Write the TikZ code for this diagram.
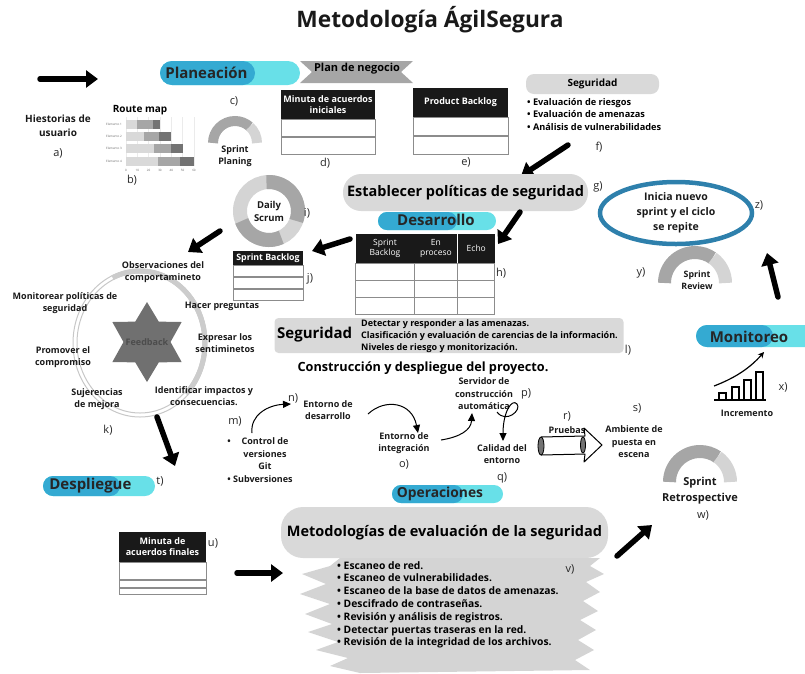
\documentclass[tikz,border=0pt]{standalone}
\usepackage{fontspec}
\setmainfont{Open Sans}
\usepackage{tikz}
\usetikzlibrary{positioning,arrows.meta,shapes.geometric}

\definecolor{pilldark}{RGB}{52,170,210}
\definecolor{pilllight}{RGB}{104,224,232}
\definecolor{boxgray}{RGB}{217,217,217}
\definecolor{gaugedark}{RGB}{166,166,166}
\definecolor{gaugelight}{RGB}{212,212,212}
\definecolor{stargray}{RGB}{112,112,112}
\definecolor{ringblue}{RGB}{46,128,172}

\begin{document}
\begin{tikzpicture}[x=1pt, y=1pt,
    lbl/.style={font=\bfseries\fontsize{9}{12.5}\selectfont, align=center, text=black!90},
    letter/.style={font=\fontsize{11}{13}\selectfont, text=black!85},
    pilltext/.style={font=\bfseries\fontsize{15}{17}\selectfont, text=black!85},
    bigarrow/.style={line width=5.5pt, line cap=round, -{Triangle[length=12pt,width=17pt]}},
    thinarrow/.style={line width=1pt, -{Triangle[length=8pt,width=7pt]}},
    tablehead/.style={fill=black!90, text=white, font=\bfseries\fontsize{9}{11}\selectfont, align=center, inner sep=0pt},
    tablerow/.style={draw=black!45, line width=0.8pt, inner sep=0pt},
    graybox/.style={fill=boxgray, inner sep=0pt},
    lightbar/.style={fill=pilllight, inner sep=0pt},
    darkbar/.style={fill=pilldark, inner sep=0pt, anchor=west}]
\useasboundingbox (0,0) rectangle (805,-673);

% title
\node[font=\bfseries\fontsize{22.7}{26}\selectfont, text=black!90] (title) at (430,-20) {Metodología ÁgilSegura};

% planeacion
\coordinate (a1) at (40,-79);
\coordinate (a2) at (98,-79);
\draw[bigarrow] (a1) -- (a2);
\node[lightbar, rounded corners=12pt, minimum width=140, minimum height=24] (planbar) at (230,-73) {};
\node[darkbar, rounded corners=12pt, minimum width=95, minimum height=24] (plandark) at (planbar.west) {};
\node[pilltext, anchor=west] (planeacion) at ([xshift=2pt]planbar.west) {Planeación};
\fill[gaugedark] (300,-61) -- (413,-61) -- (401,-72) -- (413,-83) -- (300,-83) -- (312,-72) -- cycle;
\node[font=\bfseries\fontsize{11}{13}\selectfont] (negocio) at (357,-69) {Plan de negocio};

\node[lbl, font=\bfseries\fontsize{10}{14}\selectfont] (historias) at (58,-126) {Hiestorias de\\usuario};
\node[letter] (la) at (58,-153) {a)};

% route map
\node[font=\bfseries\fontsize{10}{11}\selectfont] (routemap) at (140,-110) {Route map};
\foreach \t in {0,10,...,60} {
  \draw[black!8, line width=0.4pt] ({126+1.133*\t},-117) -- ({126+1.133*\t},-166);
  \node[font=\fontsize{3}{3}\selectfont, text=black!60, inner sep=0pt] (tick\t) at ({126+1.133*\t},-170) {\t};
}
\foreach \r/\a/\b/\c [count=\i] in {124/10/24/30, 136/16/29/40, 148/25/40/50, 161/28/48/60} {
  \fill[black!15] (126,-\r+4.5) rectangle ({126+1.133*\a},-\r-4.5);
  \fill[black!35] ({126+1.133*\a},-\r+4.5) rectangle ({126+1.133*\b},-\r-4.5);
  \fill[black!55] ({126+1.133*\b},-\r+4.5) rectangle ({126+1.133*\c},-\r-4.5);
  \node[font=\fontsize{3}{3}\selectfont, text=black!60, inner sep=0pt] (elem\i) at (114,-\r) {Elemento \i};
}
\node[letter] (lb) at (132,-180) {b)};

% sprint planing
\node[letter] (lc) at (234,-101) {c)};
\coordinate (gc) at (235,-143);
\draw[gaugedark, line width=10pt] ([shift={(180:22)}]gc) arc (180:48:22);
\draw[gaugelight, line width=10pt] ([shift={(48:22)}]gc) arc (48:0:22);
\node[lbl] (planing) at (235,-156) {Sprint\\Planing};

% minuta de acuerdos iniciales
\node[tablehead, minimum width=94, minimum height=29] (minuta) at (328,-104.5) {Minuta de acuerdos\\iniciales};
\node[tablerow, minimum width=94, minimum height=17, below=0pt of minuta] (minuta1) {};
\node[tablerow, minimum width=94, minimum height=17, below=0pt of minuta1] (minuta2) {};
\node[letter] (ld) at (325,-163) {d)};

% product backlog
\node[tablehead, minimum width=95, minimum height=29] (backlog) at (460.5,-102.5) {Product Backlog};
\node[tablerow, minimum width=95, minimum height=18, below=0pt of backlog] (backlog1) {};
\node[tablerow, minimum width=95, minimum height=18, below=0pt of backlog1] (backlog2) {};
\node[letter] (le) at (466,-162) {e)};

% seguridad
\node[graybox, rounded corners=8pt, minimum width=133, minimum height=20, font=\bfseries\fontsize{10}{12}\selectfont] (seguridad) at (592.5,-84) {Seguridad};
\node[font=\bfseries\fontsize{9.2}{12.5}\selectfont, align=left, anchor=north west, inner sep=0pt] (riesgos) at (527,-98) {• Evaluación de riesgos\\• Evaluación de amenazas\\• Análisis de vulnerabilidades};
\node[letter] (lf) at (599,-147) {f)};
\coordinate (f1) at (568,-145);
\coordinate (f2) at (521,-176);
\draw[bigarrow] (f1) -- (f2);

% politicas
\node[graybox, rounded corners=18pt, minimum width=245, minimum height=37, font=\bfseries\fontsize{14.5}{16}\selectfont] (politicas) at (465.5,-192.5) {Establecer políticas de seguridad};
\node[letter] (lg) at (598,-187) {g)};

% desarrollo
\node[lightbar, rounded corners=9pt, minimum width=118, minimum height=18] (desbar) at (437,-221) {};
\node[darkbar, rounded corners=9pt, minimum width=79, minimum height=18] (desdark) at (desbar.west) {};
\node[pilltext] (desarrollo) at (436,-220) {Desarrollo};
\coordinate (g1) at (520,-212);
\coordinate (h1) at (498,-244);
\draw[bigarrow] (g1) -- (h1);

% tablero sprint
\node[tablehead, font=\fontsize{8.5}{10.5}\selectfont, minimum width=58, minimum height=29] (hsprint) at (385,-248.5) {Sprint\\Backlog};
\node[tablehead, font=\fontsize{8.5}{10.5}\selectfont, minimum width=43, minimum height=29, right=0pt of hsprint] (hproceso) {En\\proceso};
\node[tablehead, font=\fontsize{8.5}{10.5}\selectfont, minimum width=37, minimum height=29, right=0pt of hproceso] (hecho) {Echo};
\draw[black!45, line width=0.8pt] (hsprint.south west) rectangle (494,-314);
\foreach \y in {280,297} \draw[black!45, line width=0.8pt] (356,-\y) -- (494,-\y);
\foreach \x in {414,457} \draw[black!45, line width=0.8pt] (\x,-263) -- (\x,-314);
\node[letter] (lh) at (501,-273) {h)};
\coordinate (h2) at (350,-239);
\coordinate (j1) at (312,-251);
\draw[bigarrow] (h2) -- (j1);

% daily scrum
\coordinate (ds) at (269,-211);
\draw[gaugelight, line width=14pt] (ds) circle (29);
\draw[gaugedark, line width=14pt] ([shift={(95:29)}]ds) arc (95:-20:29);
\draw[gaugedark, line width=14pt] ([shift={(200:29)}]ds) arc (200:295:29);
\node[lbl, font=\bfseries\fontsize{9.5}{13}\selectfont] (daily) at (ds) {Daily\\Scrum};
\node[letter] (li) at (307,-213) {i)};
\node[tablehead, font=\bfseries\fontsize{8.8}{10}\selectfont, minimum width=70, minimum height=14] (jback) at (268,-258) {Sprint Backlog};
\node[tablerow, minimum width=70, minimum height=11, below=0pt of jback] (jback1) {};
\node[tablerow, minimum width=70, minimum height=11, below=0pt of jback1] (jback2) {};
\node[tablerow, minimum width=70, minimum height=11, below=0pt of jback2] (jback3) {};
\node[letter] (lj) at (310,-279) {j)};
\coordinate (i1) at (220,-231);
\coordinate (k1) at (188,-252);
\draw[bigarrow] (i1) -- (k1);

% feedback
\coordinate (fb) at (140,-343);
\draw[black!22, line width=1pt] (fb) ellipse (67 and 74);
\draw[black!22, line width=1pt] (fb) ellipse (63 and 70);
\draw[black!20, line width=5pt] ([shift={(115:65 and 72)}]fb) arc[start angle=115, end angle=-45, x radius=65, y radius=72];
\node[star, star points=6, star point ratio=1.7, minimum size=80, inner sep=0pt, fill=stargray] (star) at (147,-342) {};
\node[font=\bfseries\fontsize{9}{10}\selectfont, text=black!70] (feedback) at (star) {Feedback};
\node[lbl] (observaciones) at (163,-272) {Observaciones del\\comportamineto};
\node[lbl] (monitorear) at (65,-303) {Monitorear políticas de\\seguridad};
\node[lbl] (preguntas) at (222,-306) {Hacer preguntas};
\node[lbl] (expresar) at (225,-343) {Expresar los\\sentiminetos};
\node[lbl] (promover) at (63,-357) {Promover el\\compromiso};
\node[lbl] (sujerencias) at (97,-399) {Sujerencias\\de mejora};
\node[lbl] (impactos) at (204,-396) {Identificar impactos y\\consecuencias.};
\node[letter] (lk) at (108,-430) {k)};
\coordinate (k2) at (157,-417);
\coordinate (t1) at (175,-466);
\draw[bigarrow] (k2) -- (t1);
\node[letter] (lt) at (160,-481) {t)};

% despliegue
\node[lightbar, rounded corners=10pt, minimum width=112, minimum height=20] (despbar) at (99,-486) {};
\node[darkbar, rounded corners=10pt, minimum width=77, minimum height=20] (despdark) at (despbar.west) {};
\node[pilltext, anchor=west] (despliegue) at ([xshift=3pt]despbar.west) {Despliegue};

% seguridad (l)
\node[graybox, rounded corners=4pt, minimum width=349, minimum height=35] (segbox) at (449,-335.5) {};
\node[font=\bfseries\fontsize{15}{17}\selectfont, anchor=west, inner sep=0pt] (segl) at (277,-335) {Seguridad};
\node[font=\bfseries\fontsize{9}{12}\selectfont, align=left, anchor=west, inner sep=0pt] (amenazas) at (361,-336) {Detectar y responder a las amenazas.\\Clasificación y evaluación de carencias de la información.\\Niveles de riesgo y monitorización.};
\node[letter] (ll) at (628,-350) {l)};

% construccion
\node[font=\bfseries\fontsize{12.7}{14}\selectfont] (construccion) at (423,-368) {Construcción y despliegue del proyecto.};
\node[letter] (lm) at (235,-421) {m)};
\node[lbl] (punto) at (229,-442) {•};
\node[lbl] (control) at (265,-454) {Control de\\versiones\\Git};
\node[lbl] (subversiones) at (260,-479) {• Subversiones};
\coordinate (m1) at (252,-433);
\coordinate (n1) at (291,-404);
\draw[thinarrow] (m1) .. controls (250,-415) and (268,-405) .. (n1);
\node[letter] (ln) at (293,-398) {n)};
\node[lbl] (entornodes) at (328,-410) {Entorno de\\desarrollo};
\coordinate (n2) at (368,-414);
\coordinate (o1) at (418,-433);
\draw[thinarrow] (n2) .. controls (385,-398) and (412,-402) .. (o1);
\node[lbl] (entornoint) at (404,-443) {Entorno de\\integración};
\node[letter] (lo) at (404,-464) {o)};
\coordinate (o2) at (441,-440);
\coordinate (p1) at (472,-413);
\draw[thinarrow] (o2) .. controls (460,-437) and (471,-430) .. (p1);
\node[lbl] (servidor) at (484,-394) {Servidor de\\construcción\\automática};
\node[letter] (lp) at (526,-394) {p)};
\coordinate (p2) at (497,-412);
\coordinate (q1) at (503,-441);
\draw[thinarrow] (p2) .. controls (506,-424) and (522,-410) .. (517,-404) .. controls (512,-398) and (503,-412) .. (q1);
\node[lbl] (calidad) at (502,-454) {Calidad del\\entorno};
\node[letter] (lq) at (502,-478) {q)};
\node[letter] (lr) at (567,-416) {r)};
\node[lbl] (pruebas) at (567,-430) {Pruebas};
\coordinate (pr) at (541,-446);
\coordinate (am) at (602,-445);
\draw[line width=1pt, line join=round] (pr) ++(0,9) -- (585,-436) -- (584,-428) -- (am) -- (584,-462) -- (585,-454) -- (541,-455);
\draw[line width=0.8pt, fill=black!55] (pr) ellipse (3 and 9);
\draw[line width=0.8pt, fill=black!55] (583,-445) ellipse (2.5 and 8);
\node[letter] (ls) at (637,-408) {s)};
\node[lbl] (ambiente) at (634,-442) {Ambiente de\\puesta en\\escena};

% nuevo sprint
\node[draw=ringblue, line width=4.5pt, ellipse, minimum width=152, minimum height=62, inner sep=0pt, lbl, font=\bfseries\fontsize{10.5}{15}\selectfont] (nuevo) at (676,-213) {Inicia nuevo\\sprint y el ciclo\\se repite};
\node[letter] (lz) at (759,-205) {z)};
\coordinate (gy) at (695,-283);
\draw[gaugedark, line width=13pt] ([shift={(180:30.5)}]gy) arc (180:55:30.5);
\draw[gaugelight, line width=13pt] ([shift={(55:30.5)}]gy) arc (55:0:30.5);
\node[lbl, font=\bfseries\fontsize{8.8}{12.5}\selectfont] (review) at (697,-280) {Sprint\\Review};
\node[letter] (ly) at (641,-273) {y)};
\coordinate (x1) at (778,-297);
\coordinate (z1) at (767,-253);
\draw[bigarrow] (x1) -- (z1);

% monitoreo
\fill[pilllight, rounded corners=11pt] (805,-325) -- (696,-325) -- (696,-347) -- (805,-347);
\node[lightbar, fill=pilldark, rounded corners=11pt, minimum width=77, minimum height=22] (mondark) at (734.5,-336) {};
\node[pilltext] (monitoreo) at (749,-337) {Monitoreo};
\draw[line width=1.3pt] (714,-400) -- (766,-400);
\foreach \xa/\h in {719/7, 732/13, 744/20, 756/28}
  \draw[line width=1.2pt] (\xa,-400) -- (\xa,-400+\h) -- (\xa+7,-400+\h) -- (\xa+7,-400);
\coordinate (inc1) at (714,-386);
\coordinate (inc2) at (764,-352);
\draw[line width=1.2pt, -{Stealth[length=6pt,width=6pt]}] (inc1) .. controls (735,-378) and (750,-368) .. (inc2);
\node[letter] (lx) at (783,-387) {x)};
\node[lbl] (incremento) at (747,-413) {Incremento};

% retrospective
\coordinate (gw) at (700,-482);
\draw[gaugedark, line width=13pt] ([shift={(180:30.5)}]gw) arc (180:55:30.5);
\draw[gaugelight, line width=13pt] ([shift={(55:30.5)}]gw) arc (55:0:30.5);
\node[lbl, font=\bfseries\fontsize{11}{16}\selectfont] (retro) at (700,-491) {Sprint\\Retrospective};
\node[letter] (lw) at (703,-515) {w)};
\coordinate (v1) at (617,-556);
\coordinate (w1) at (652,-525);
\draw[bigarrow] (v1) -- (w1);

% operaciones
\node[lightbar, rounded corners=9pt, minimum width=111, minimum height=18] (opbar) at (447.5,-494) {};
\node[darkbar, rounded corners=9pt, minimum width=71, minimum height=18] (opdark) at (opbar.west) {};
\node[pilltext, font=\bfseries\fontsize{13.8}{15}\selectfont] (operaciones) at (440,-494) {Operaciones};
\node[graybox, rounded corners=22pt, minimum width=327, minimum height=51, font=\bfseries\fontsize{14.5}{16}\selectfont] (metodologias) at (444.5,-532.5) {Metodologías de evaluación de la seguridad};
\fill[black!17] (340,-558) -- (600,-558) -- (590,-566) -- (604,-574) -- (586,-582) -- (600,-592) -- (583,-601) -- (598,-611) -- (580,-620) -- (596,-630) -- (578,-640) -- (594,-650) -- (575,-660) -- (590,-670) -- (360,-673) -- (330,-666) -- (348,-658) -- (316,-650) -- (338,-642) -- (308,-632) -- (332,-624) -- (305,-614) -- (330,-604) -- (300,-594) -- (326,-584) -- (302,-574) -- (330,-566) -- cycle;
\node[font=\bfseries\fontsize{10.3}{12.8}\selectfont, align=left, anchor=north west, inner sep=0pt] (escaneo) at (337,-561) {• Escaneo de red.\\• Escaneo de vulnerabilidades.\\• Escaneo de la base de datos de amenazas.\\• Descifrado de contraseñas.\\• Revisión y análisis de registros.\\• Detectar puertas traseras en la red.\\• Revisión de la integridad de los archivos.};
\node[letter] (lv) at (570,-569) {v)};

% minuta final
\node[tablehead, minimum width=87, minimum height=30] (final) at (162.5,-547) {Minuta de\\acuerdos finales};
\node[tablerow, minimum width=87, minimum height=17, below=0pt of final] (final1) {};
\node[tablerow, minimum width=87, minimum height=7, below=0pt of final1] (final2) {};
\node[tablerow, minimum width=87, minimum height=6, below=0pt of final2] (final3) {};
\node[letter] (lu) at (213,-543) {u)};
\coordinate (u1) at (237,-573);
\coordinate (v2) at (283,-573);
\draw[bigarrow] (u1) -- (v2);
\end{tikzpicture}
\end{document}
